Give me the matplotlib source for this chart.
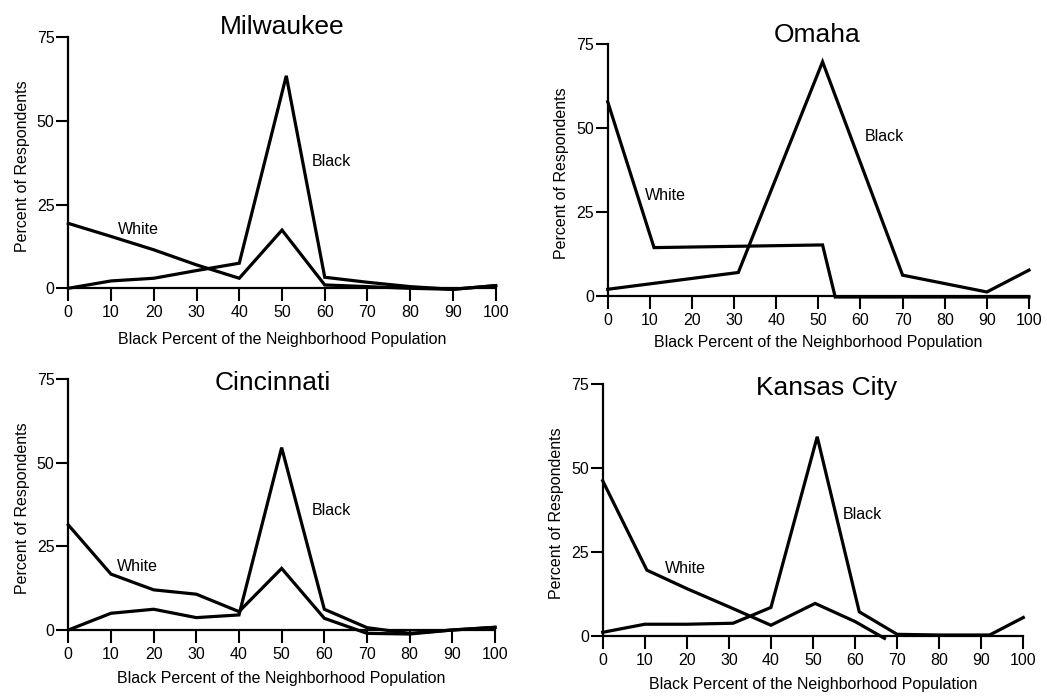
import matplotlib.pyplot as plt

# Dados (percentual de respondentes)
x_padrao = [0, 10, 20, 30, 40, 50, 60, 70, 80, 90, 100]

# Milwaukee
milw_black_x = [0, 10, 20, 30, 40, 51, 60, 70, 80, 90, 100]
milw_black = [0, 2.2, 3, 5.3, 7.5, 63.5, 3.3, 1.8, 0.5, -0.3, 0.8]
milw_white_x = [0, 10, 20, 30, 40, 50, 60, 70, 80, 90, 100]
milw_white = [19.4, 15.5, 11.5, 7, 3, 17.4, 1, 0.5, 0, -0.3, 0.8]

# Omaha
omaha_black_x = [0, 31, 51, 70, 90, 100]
omaha_black = [2, 7, 69.7, 6.2, 1.2, 7.7]
omaha_white_x = [0, 11, 51, 54, 100]
omaha_white = [57.8, 14.4, 15.2, -0.3, -0.3]

# Cincinnati
cinc_black_x = x_padrao
cinc_black = [0, 5, 6.2, 3.7, 4.5, 54.5, 6.2, 0.7, -1, 0, 0.8]
cinc_white_x = x_padrao
cinc_white = [31.4, 16.7, 12, 10.7, 5.5, 18.4, 3.5, -1, -1.2, 0, 0.8]

# Kansas City
kc_black_x = [0, 10, 20, 31, 40, 51, 61, 70, 80, 92, 100]
kc_black = [1.1, 3.5, 3.5, 3.8, 8.5, 59.3, 7.2, 0.5, 0.3, 0.3, 5.5]
kc_white_x = [0, 10.5, 20, 30, 40, 50.5, 60, 67]
kc_white = [46.2, 19.6, 14.1, 8.7, 3.2, 9.7, 4.3, -0.7]

cidades = ['Milwaukee', 'Omaha', 'Cincinnati', 'Kansas City']
series = [
    (milw_black_x, milw_black, milw_white_x, milw_white),
    (omaha_black_x, omaha_black, omaha_white_x, omaha_white),
    (cinc_black_x, cinc_black, cinc_white_x, cinc_white),
    (kc_black_x, kc_black, kc_white_x, kc_white),
]
# posicao dos rotulos "Black" e "White" (coordenadas de dados)
rotulos = [
    ((57, 38), (11.7, 17.6)),
    ((61, 47.6), (8.9, 29.9)),
    ((57, 35.7), (11.3, 18.9)),
    ((57, 36.3), (14.8, 20)),
]
# posicao do titulo (centro x, linha de base y) em dados
titulos = [(50, 75.9), (49.7, 75.7), (48, 71.7), (53.3, 71.7)]
# cantos dos eixos em pixels: x0, x100, y0, y75
cantos = [
    (68.3, 495.7, 288.3, 37.3),
    (607.7, 1029, 296, 44),
    (68.3, 495, 630, 379),
    (602.7, 1023.3, 636, 384),
]
pad_xlabel = [9, 5, 7, 7]

W, H = 1047, 696
plt.rcParams['font.family'] = ['Liberation Sans', 'DejaVu Sans']
fig = plt.figure(figsize=(W / 100, H / 100), dpi=100)

y_min = -2
for i, nome in enumerate(cidades):
    bx, by, wx, wy = series[i]
    pos_b, pos_w = rotulos[i]
    x0, x1, y0, y75 = cantos[i]
    escala = (y0 - y75) / 75
    baixo = y0 + (0 - y_min) * escala
    ax = fig.add_axes([x0 / W, 1 - baixo / H, (x1 - x0) / W, (baixo - y75) / H])
    ax.set_xlim(0, 100)
    ax.set_ylim(y_min, 75)
    ax.plot(bx, by, color='black', lw=2.3, clip_on=False, solid_joinstyle='miter')
    ax.plot(wx, wy, color='black', lw=2.3, clip_on=False, solid_joinstyle='miter')

    for lado in ['top', 'right']:
        ax.spines[lado].set_visible(False)
    ax.spines['bottom'].set_position(('data', 0))
    ax.spines['left'].set_bounds(0, 75)
    ax.spines['left'].set_linewidth(1.6)
    ax.spines['bottom'].set_linewidth(1.6)
    ax.set_xticks(range(0, 101, 10))
    ax.set_yticks([0, 25, 50, 75])
    ax.tick_params(axis='x', direction='out', length=9, width=1.5, labelsize=11.5, pad=3)
    ax.tick_params(axis='y', direction='out', length=9, width=1.5, labelsize=11.5, pad=1)

    ax.set_xlabel('Black Percent of the Neighborhood Population', fontsize=11.5,
                  labelpad=pad_xlabel[i])
    ax.set_ylabel('Percent of Respondents', fontsize=11.5, labelpad=5)
    ax.text(titulos[i][0], titulos[i][1], nome, fontsize=19, ha='center', va='baseline')
    ax.text(pos_b[0], pos_b[1], 'Black', fontsize=11.5, va='center')
    ax.text(pos_w[0], pos_w[1], 'White', fontsize=11.5, va='center')

plt.savefig('out.png', dpi=100)
